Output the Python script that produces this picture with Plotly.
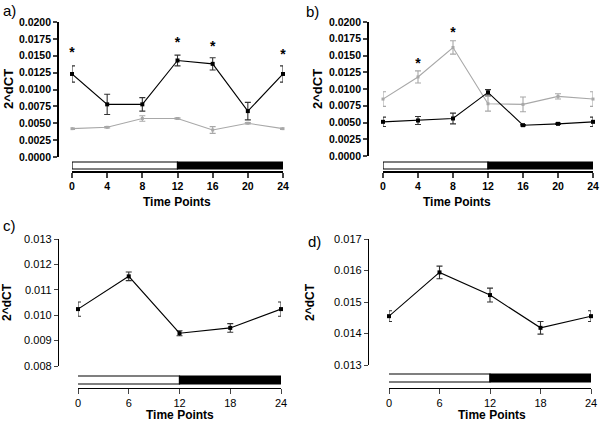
import plotly.graph_objects as go

# panel a) - 4 h time course, two series
a_time = [0, 4, 8, 12, 16, 20, 24]
a_black = [0.0123, 0.0078, 0.0078, 0.0143, 0.0138, 0.0068, 0.0123]
a_black_err = [0.0012, 0.0015, 0.0010, 0.0008, 0.0009, 0.0013, 0.0012]
a_grey = [0.0042, 0.0044, 0.0057, 0.0057, 0.0040, 0.0050, 0.0042]
a_grey_err = [0.0001, 0.0001, 0.0004, 0.0001, 0.0005, 0.0001, 0.0001]
a_star_x = [0, 12, 16, 24]
a_star_y = [0.0153, 0.0168, 0.0162, 0.0151]

# panel b)
b_time = [0, 4, 8, 12, 16, 20, 24]
b_grey = [0.0085, 0.0118, 0.0162, 0.0078, 0.0077, 0.0089, 0.0085]
b_grey_err = [0.0011, 0.0009, 0.0010, 0.0011, 0.0011, 0.0004, 0.0011]
b_black = [0.0051, 0.0053, 0.0056, 0.0095, 0.0046, 0.0048, 0.0051]
b_black_err = [0.0007, 0.0006, 0.0008, 0.0004, 0.0001, 0.0001, 0.0007]
b_star_x = [4, 8]
b_star_y = [0.0137, 0.0183]

# panel c) and d) - 6 h time course
cd_time = [0, 6, 12, 18, 24]
c_vals = [0.01024, 0.01153, 0.00929, 0.00950, 0.01024]
c_err = [0.00028, 0.00017, 0.00010, 0.00017, 0.00028]
d_vals = [0.01455, 0.01594, 0.01522, 0.01418, 0.01455]
d_err = [0.00017, 0.00020, 0.00022, 0.00020, 0.00017]

# light / dark phases
phase_fill = ["white", "black"]

W, H = 600, 423
FONT = "Liberation Sans"
GREY = "#a8a8a8"


def px(x):
    return x / W


def py(y):
    return 1 - y / H


fig = go.Figure()


def add_series(n, t, v, e, color, msize=4):
    fig.add_trace(go.Scatter(
        x=t, y=v, xaxis=f"x{n}", yaxis=f"y{n}", mode="lines+markers",
        line=dict(color=color, width=1.1),
        marker=dict(color=color, size=msize, symbol="square"),
        error_y=dict(type="data", array=e, color=color if color != "black" else "#333",
                     thickness=1.1, width=3),
        cliponaxis=False, showlegend=False))


def add_stars(n, sx, sy):
    fig.add_trace(go.Scatter(
        x=sx, y=sy, xaxis=f"x{n}", yaxis=f"y{n}", mode="text", text=["*"] * len(sx),
        textposition="middle center",
        textfont=dict(family=FONT, size=14, color="black", weight="bold"),
        cliponaxis=False, showlegend=False))


def setup_axes(n, xdom, ydom, yaxis_x, xaxis_y, yrange, ytick, xtick, fmt, bold,
               bar_y, bar_x0, bar_x1):
    w = "bold" if bold else "normal"
    lw = 1.7 if bold else 1.3
    tf = dict(family=FONT, size=10.5 if bold else 11, color="black", weight=w)
    sfx = "" if n == 1 else str(n)
    fig.update_layout(**{
        f"xaxis{sfx}": dict(domain=[px(xdom[0]), px(xdom[1])], range=[0, 24],
                            anchor="free", position=py(xaxis_y), automargin=False,
                            tickvals=xtick, ticks="outside", ticklen=5, tickwidth=lw,
                            showline=True, linecolor="black", linewidth=lw,
                            showgrid=False, zeroline=False, tickfont=tf,
                            fixedrange=True),
        f"yaxis{sfx}": dict(domain=[py(ydom[1]), py(ydom[0])], range=yrange,
                            anchor="free", position=px(yaxis_x), automargin=False,
                            tickvals=ytick, tickformat=fmt, ticks="outside",
                            ticklen=4, tickwidth=lw, showline=True, linecolor="black",
                            linewidth=lw, showgrid=False, zeroline=False,
                            tickfont=tf, fixedrange=True),
    })
    xs = [bar_x0, 12]
    xe = [12, bar_x1]
    for s, e, c in zip(xs, xe, phase_fill):
        fig.add_shape(type="rect", xref=f"x{n}", yref="paper", x0=s, x1=e,
                      y0=py(bar_y[1]), y1=py(bar_y[0]), fillcolor=c,
                      line=dict(color="black", width=1.2))


setup_axes(1, (72, 283), (22, 157), 58, 172, [0, 0.02],
           [0.0025 * i for i in range(9)], a_time, ".4f", True, (162, 169), 0, 24.1)
setup_axes(2, (383, 593), (22, 156), 368, 172, [0, 0.02],
           [0.0025 * i for i in range(9)], b_time, ".4f", True, (162, 169), 0, 24.1)
setup_axes(3, (78, 281), (239, 366), 58, 388, [0.008, 0.013],
           [0.008, 0.009, 0.010, 0.011, 0.012, 0.013], cd_time, ".3f", False,
           (376, 384), -0.3, 24.3)
setup_axes(4, (389, 591), (239, 365), 368, 388, [0.013, 0.017],
           [0.013, 0.014, 0.015, 0.016, 0.017], cd_time, ".3f", False,
           (374, 382), -0.3, 24.6)

add_series(1, a_time, a_grey, a_grey_err, GREY, 3)
add_series(1, a_time, a_black, a_black_err, "black")
add_stars(1, a_star_x, a_star_y)
add_series(2, b_time, b_grey, b_grey_err, GREY, 3)
add_series(2, b_time, b_black, b_black_err, "black")
add_stars(2, b_star_x, b_star_y)
add_series(3, cd_time, c_vals, c_err, "black")
add_series(4, cd_time, d_vals, d_err, "black")

ann = []
for lbl, x, y in [("a)", 1, 10), ("b)", 304, 11), ("c)", 1, 225), ("d)", 306, 241)]:
    ann.append(dict(text=lbl, x=px(x), y=py(y), xref="paper", yref="paper",
                    xanchor="left", yanchor="middle", showarrow=False,
                    font=dict(family=FONT, size=15, color="black")))
for x, y, s in [(9, 89, 13), (318, 89, 13), (7, 302, 12), (310, 302, 12)]:
    ann.append(dict(text="2^dCT", x=px(x), y=py(y), xref="paper", yref="paper",
                    xanchor="center", yanchor="middle",
                    textangle=-90, showarrow=False,
                    font=dict(family=FONT, size=s, color="black", weight="bold")))
for x, y in [(177, 202), (457, 202), (180, 415), (492, 415)]:
    ann.append(dict(text="Time Points", x=px(x), y=py(y), xref="paper", yref="paper",
                    xanchor="center", yanchor="middle", showarrow=False,
                    font=dict(family=FONT, size=12, color="black", weight="bold")))

fig.update_layout(template="none", width=W, height=H, margin=dict(l=0, r=0, t=0, b=0),
                  paper_bgcolor="white", plot_bgcolor="white", annotations=ann,
                  font=dict(family=FONT, color="black"))

fig.write_html("out.html", config={"displayModeBar": False},
               post_script="document.body.style.margin='0px';")
